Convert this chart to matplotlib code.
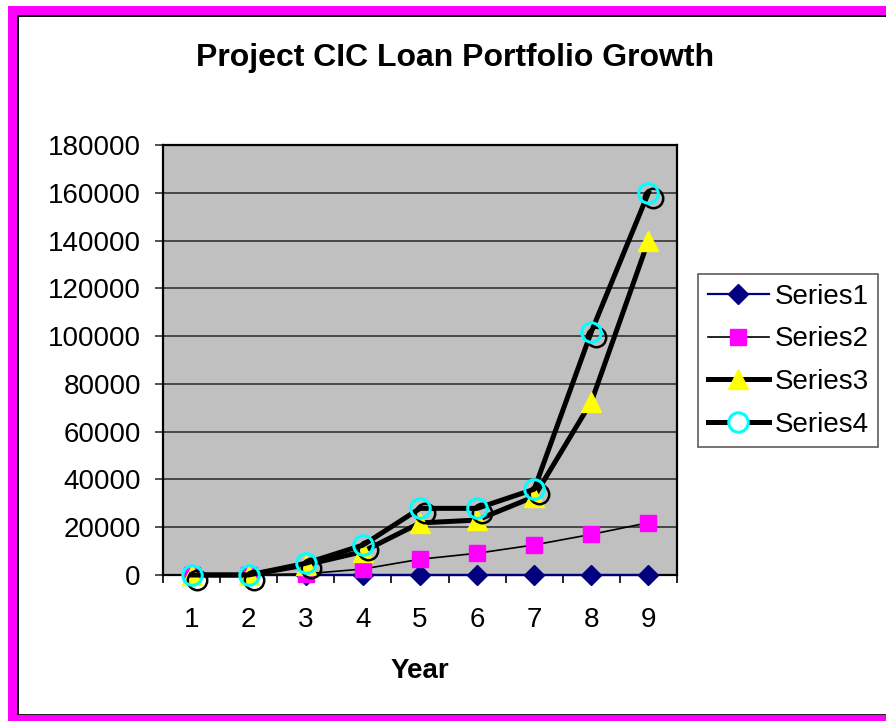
import numpy as np
import matplotlib
matplotlib.use('Agg')
import matplotlib.pyplot as plt
from matplotlib.patches import Rectangle
from matplotlib.lines import Line2D
from matplotlib.transforms import offset_copy


years   = ['1', '2', '3', '4', '5', '6', '7', '8', '9']
series1 = [0, 0, 0, 0, 0, 0, 0, 0, 0]
series2 = [0, 0, 500, 2500, 6600, 9100, 12600, 17000, 21900]
series3 = [0, 0, 4200, 9800, 21800, 23000, 32800, 72500, 140000]
series4 = [0, 0, 4900, 12500, 27900, 27900, 35900, 101800, 160000]
yticks  = [0, 20000, 40000, 60000, 80000, 100000, 120000, 140000, 160000, 180000]

W, H = 886, 721

plt.rcParams['font.family'] = ['Liberation Sans', 'DejaVu Sans']

fig = plt.figure(figsize = (W / 100, H / 100), dpi = 100)
fig.patch.set_facecolor('white')

# plot area in pixels: left 163, right 677, top 145, bottom 575
ax = fig.add_axes([163 / W, 1 - 575 / H, (677 - 163) / W, (575 - 145) / H])
ax.set_facecolor('#C0C0C0')

x = np.arange(len(years))

ax.plot(x, series1, color = '#000080', lw = 1.6, marker = 'D', ms = 10,
        mfc = '#000080', mec = '#000080', clip_on = False, zorder = 3, label = 'Series1')
ax.plot(x, series2, color = 'black', lw = 1.2, marker = 's', ms = 11,
        mfc = '#FF00FF', mec = '#FF00FF', clip_on = False, zorder = 4, label = 'Series2')
ax.plot(x, series3, color = 'black', lw = 3.6, marker = '^', ms = 15,
        mfc = '#FFFF00', mec = '#FFFF00', clip_on = False, zorder = 5, label = 'Series3')

shadow = offset_copy(ax.transData, fig = fig, x = 5, y = -5, units = 'dots')
ax.plot(x, series4, ls = 'none', marker = 'o', ms = 14, mfc = 'none', mec = 'black',
        mew = 1.8, transform = shadow, clip_on = False, zorder = 5.5)
ax.plot(x, series4, color = 'black', lw = 3.6, marker = 'o', ms = 14, mfc = 'none',
        mec = '#00FFFF', mew = 2.2, clip_on = False, zorder = 6, label = 'Series4')

ax.set_xlim(-0.5, len(years) - 0.5)
ax.set_ylim(0, 180000)
ax.set_yticks(yticks)
ax.set_yticklabels([str(v) for v in yticks])
ax.set_xticks(x)
ax.set_xticklabels(years)
ax.set_xticks(np.arange(-0.5, len(years)), minor = True)

ax.yaxis.grid(True, color = '#333333', lw = 1.2)
ax.set_axisbelow(True)

ax.tick_params(axis = 'y', which = 'major', direction = 'out', length = 6, width = 1.2,
               color = '#333333', labelsize = 20, pad = 10)
ax.tick_params(axis = 'x', which = 'major', length = 0, labelsize = 20, pad = 23)
ax.tick_params(axis = 'x', which = 'minor', direction = 'out', length = 6, width = 1.2,
               color = 'black')

for s in ax.spines.values():
    s.set_color('black')
    s.set_linewidth(1.6)

ax.set_xlabel('Year', fontsize = 20, fontweight = 'bold', labelpad = 18)

fig.text(455 / W, 1 - 58 / H, 'Project CIC Loan Portfolio Growth', fontsize = 23,
         fontweight = 'bold', ha = 'center', va = 'center')

handles = [
    Line2D([], [], color = '#000080', lw = 1.6, marker = 'D', ms = 10, mfc = '#000080', mec = '#000080'),
    Line2D([], [], color = 'black', lw = 1.2, marker = 's', ms = 11, mfc = '#FF00FF', mec = '#FF00FF'),
    Line2D([], [], color = 'black', lw = 3.6, marker = '^', ms = 15, mfc = '#FFFF00', mec = '#FFFF00'),
    Line2D([], [], color = 'black', lw = 3.6, marker = 'o', ms = 14, mfc = 'white', mec = '#00FFFF', mew = 2.2),
]
leg = fig.legend(handles, ['Series1', 'Series2', 'Series3', 'Series4'],
                 loc = 'upper left', bbox_to_anchor = (698 / W, 1 - 274 / H),
                 fontsize = 20, frameon = True, fancybox = False, borderaxespad = 0,
                 borderpad = 0.35, handlelength = 2.2, handletextpad = 0.2, labelspacing = 0.6)
leg.get_frame().set_edgecolor('#333333')
leg.get_frame().set_linewidth(1.2)

# magenta border (left, top, bottom) and thin black inner frame
def px_rect(x0, y0, x1, y1, color):
    fig.add_artist(Rectangle((x0 / W, 1 - y1 / H), (x1 - x0) / W, (y1 - y0) / H,
                             transform = fig.transFigure, facecolor = color,
                             edgecolor = 'none', zorder = 10))

px_rect(8, 6, 17, H, '#FF00FF')
px_rect(8, 6, W, 15, '#FF00FF')
px_rect(8, 715, W, H, '#FF00FF')
px_rect(17, 15, 18.5, 714, 'black')
px_rect(17, 15, W, 16.5, 'black')
px_rect(17, 713.5, W, 715, '#222222')

fig.savefig('out.png', dpi = 100)
